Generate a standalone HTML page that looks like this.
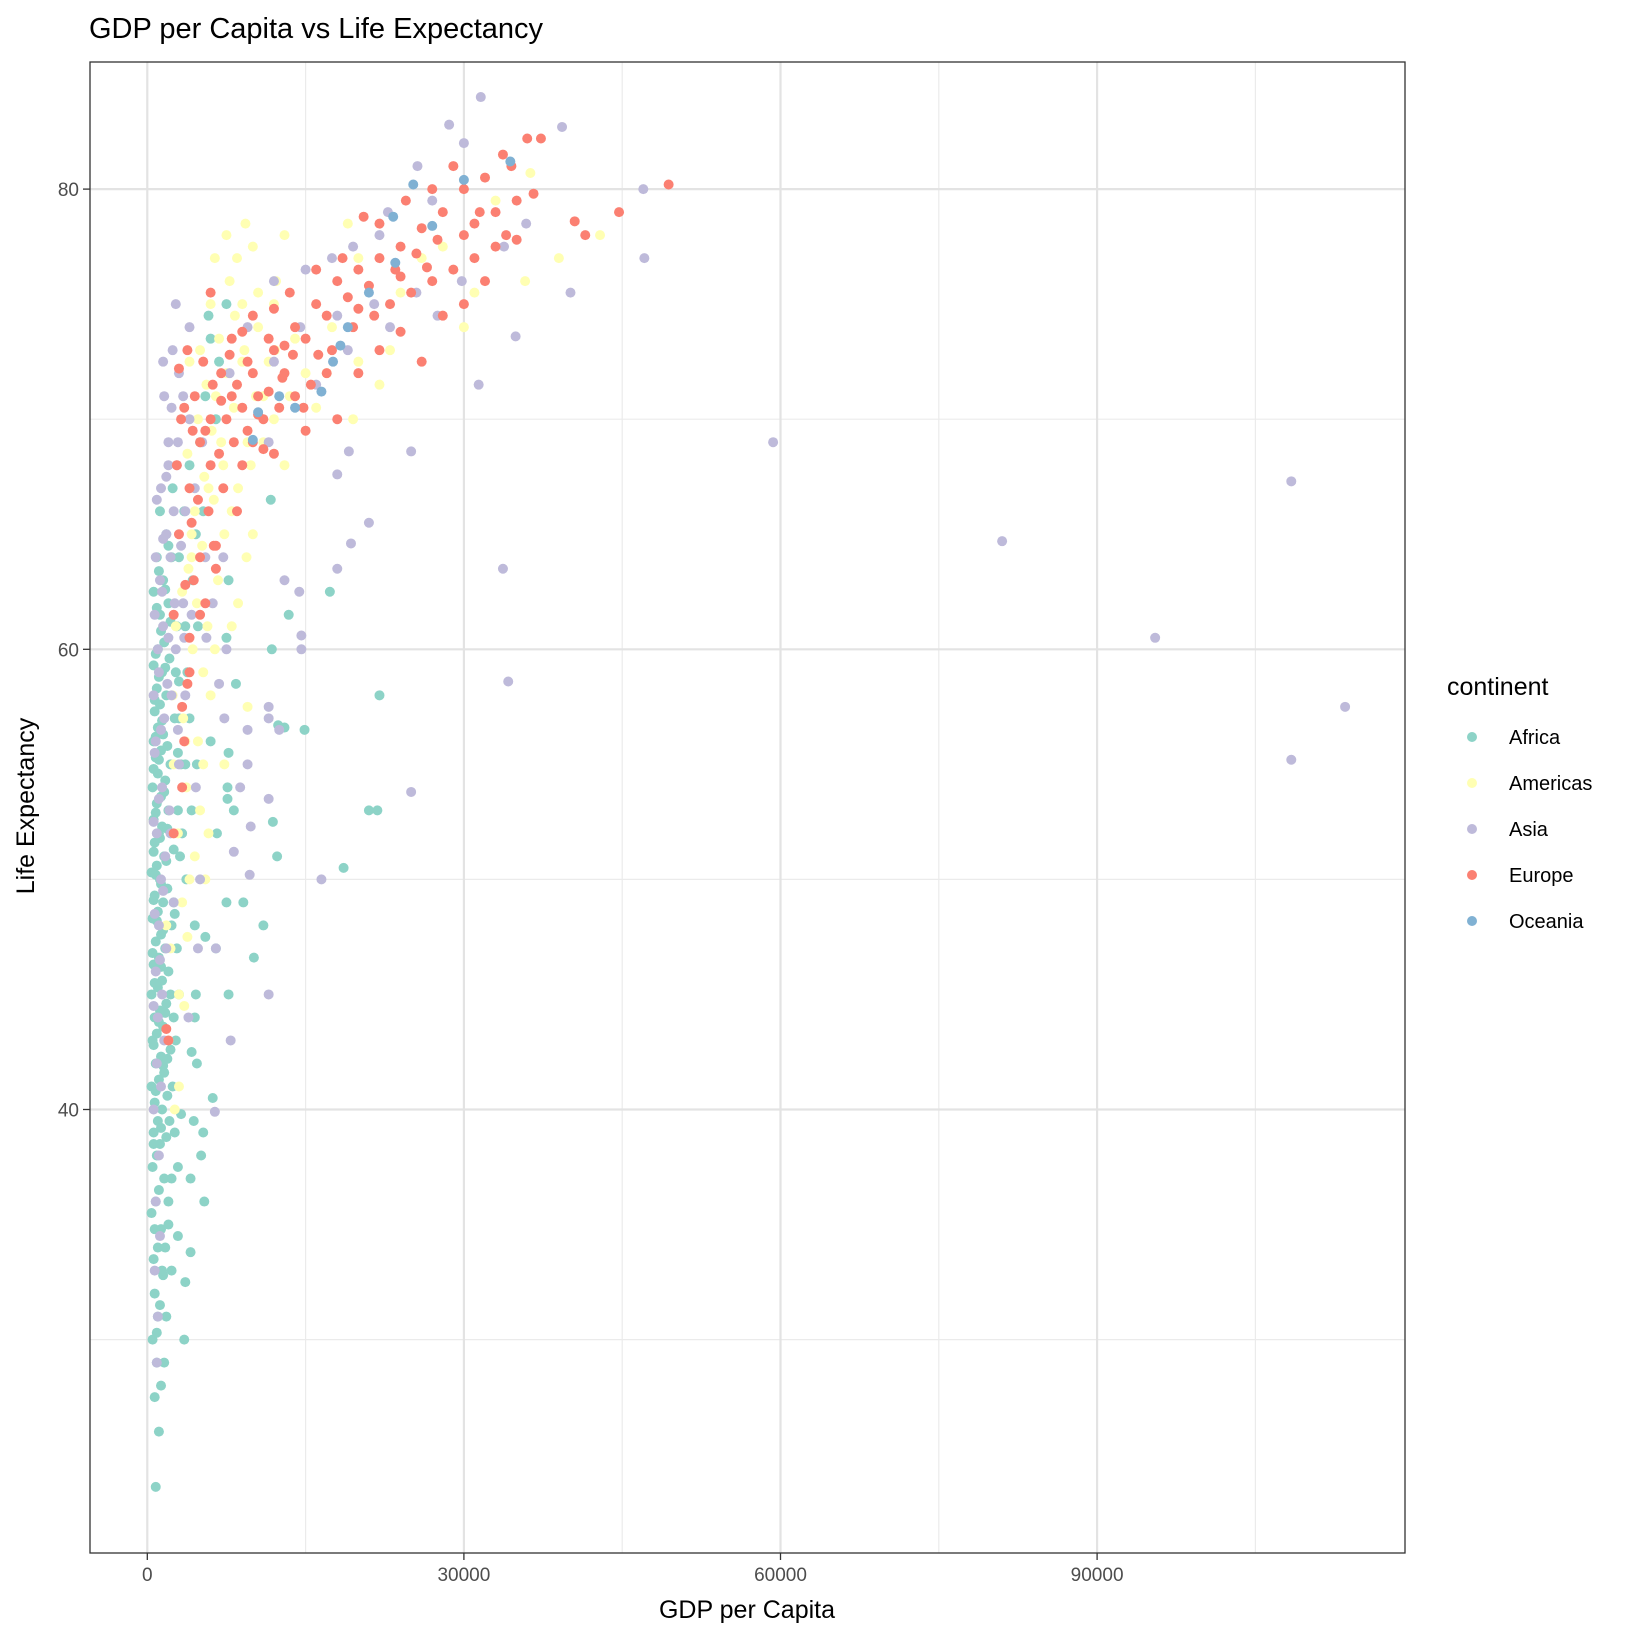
<!DOCTYPE html>
<html><head><meta charset="utf-8"><style>
html,body{margin:0;padding:0;background:#fff;}
svg text{font-family:"Liberation Sans",Arial,sans-serif;}
</style></head><body>
<svg id="chart" width="1632" height="1632" viewBox="0 0 1632 1632" xmlns="http://www.w3.org/2000/svg">
<rect width="1632" height="1632" fill="#fff"/>
<text x="89" y="38" font-size="29" fill="#000">GDP per Capita vs Life Expectancy</text>
<g id="grid"></g>
<g id="points"></g>
<rect x="90" y="62" width="1315" height="1491" fill="none" stroke="#333" stroke-width="1.3"/>
<g id="axes"></g>
<text x="747" y="1618" font-size="25" text-anchor="middle" fill="#000">GDP per Capita</text>
<text transform="translate(34,806) rotate(-90)" font-size="25" text-anchor="middle" fill="#000">Life Expectancy</text>
<g id="legend"></g>
</svg>
<script>
const xTicks=[0,30000,60000,90000];
const xMinor=[15000,45000,75000,105000];
const yTicks=[40,60,80];
const yMinor=[30,50,70];
const continents=["Africa","Americas","Asia","Europe","Oceania"];
const colors=["#8DD3C7","#FFFFB3","#BEBADA","#FB8072","#80B1D3"];
const africa=[[800,23.6],[500,30],[900,30.3],[1200,31.5],[700,32],[1500,32.8],[600,33.5],[1000,34],[1300,34.8],[400,35.5],[800,36],[1100,36.5],[1600,37],[500,37.5],[900,38],[1200,38.5],[1800,38.8],[600,39],[1000,39.5],[1400,40],[700,40.3],[1900,40.6],[400,41],[1100,41.3],[1600,41.6],[800,42],[1300,42.3],[2200,42.6],[500,43],[900,43.3],[1500,43.6],[700,44],[1200,44.3],[1800,44.6],[400,45],[1000,45.3],[1400,45.6],[2000,46],[600,46.3],[1100,46.6],[1700,47],[800,47.3],[1300,47.6],[2300,48],[500,48.3],[1000,48.6],[1500,49],[700,49.3],[1900,49.6],[1200,50],[400,50.3],[900,50.6],[1600,51],[2500,51.3],[700,51.6],[1100,52],[1400,52.3],[600,52.6],[2000,53],[900,53.3],[1300,53.6],[500,54],[1700,54.3],[1000,54.6],[2200,55],[800,55.3],[1300,55.6],[600,56],[1500,56.3],[1000,56.6],[2600,57],[700,57.3],[1200,57.6],[1800,58],[900,58.3],[3000,58.6],[1400,59],[600,59.3],[2100,59.6],[1000,60],[1600,60.3],[2800,61],[1200,61.5],[2000,62],[1500,63],[2300,64],[1800,65],[2400,67],[600,62.5],[900,64],[1100,26],[1300,28],[700,27.5],[1600,29],[1000,31],[1400,33],[2000,35],[2300,37],[2600,39],[2400,41],[2700,43],[3000,45],[2800,47],[2500,49],[3100,51],[2900,53],[3200,55],[3000,57],[3500,30],[3600,32.5],[2900,34.5],[4100,33.8],[4100,37],[5400,36],[2900,37.5],[5100,38],[4400,39.5],[5300,39],[6200,40.5],[3200,39.8],[4200,42.5],[4500,44],[4600,45],[7700,45],[4700,42],[6500,47],[5500,47.5],[9100,49],[7500,49],[18600,50.5],[11000,48],[10100,46.6],[12300,51],[11900,52.5],[8200,53],[7600,54],[7600,53.5],[21000,53],[21800,53],[7700,55.5],[14900,56.5],[12400,56.7],[13000,56.6],[22000,58],[8400,58.5],[11800,60],[7500,60.5],[13400,61.5],[17300,62.5],[7700,63],[11700,66.5],[7500,75],[5800,74.5],[6000,73.5],[6800,72.5],[5500,71],[6500,70],[5000,69],[4000,68],[3500,66],[3000,64],[4300,63],[4600,65],[3600,61],[3800,59],[4000,57],[3600,55],[4200,53],[3700,50],[4500,48],[4800,61],[5300,66],[6600,52],[6000,56],[2000,36],[1700,34],[2300,33],[4700,55],
[600,38.5],[1300,39.2],[800,40.8],[1500,41.9],[600,42.8],[1100,43.8],[1700,44.2],[700,45.5],[1300,46.2],[500,46.8],[1500,47.8],[900,48.2],[600,49.1],[1300,49.8],[800,50.2],[1800,50.8],[600,51.2],[1200,51.8],[1900,52.2],[800,52.9],[1600,53.8],[600,54.8],[1100,55.2],[1900,55.8],[800,56.2],[1400,56.9],[700,57.8],[1100,58.8],[1700,59.2],[800,59.8],[1300,60.8],[2200,61.2],[900,61.8],[1700,62.6],[1100,63.4],[2000,64.5],[1200,66],[2700,59],[2900,55.5],[3300,52],[2600,48.5],[2200,45],[2100,39.5],[1800,31],[900,29],[700,34.8],[1900,42.2],[2500,44]];
const americas=[[2000,43],[3000,45],[3500,44.5],[3800,47.5],[4000,50],[5000,53],[7300,55],[2500,55],[6000,58],[9500,57.5],[3000,41],[2600,40],[2200,47],[3300,49],[4500,51],[5800,52],[2900,52],[3700,54],[4800,56],[3400,57],[5300,59],[4300,60],[5700,61],[8000,61],[4700,62],[6700,63],[3900,63.5],[9400,64],[5200,64.5],[7300,65],[4500,66],[6300,66.5],[8600,67],[5400,67.5],[7200,68],[3800,68.5],[9500,69],[6100,69.5],[4800,70],[8200,70.5],[10300,71],[5600,71.5],[7500,72],[9000,72.5],[12100,73],[6800,73.5],[10500,74],[8300,74.5],[6000,75],[10500,75.5],[7800,76],[12200,76],[6400,77],[7500,78],[9300,78.5],[13000,78],[10000,77.5],[36300,80.7],[42900,78],[39000,77],[35800,76],[31000,75.5],[30000,74],[22000,71.5],[19000,78.5],[26000,77],[24000,75.5],[23000,73],[20000,72.5],[17000,72],[15000,72],[19500,70],[13000,68],[11000,69],[16000,70.5],[14000,73.5],[12000,75],[11000,71],[9800,68],[8000,66],[2400,58],[5500,50],[2700,61],[1800,48],[3300,62.5],[4200,65],
[4000,72.5],[5000,73],[6500,71],[7000,69],[5800,67],[4200,64],[6400,60],[3600,56],[5300,55],[8600,62],[10000,65],[11500,72.5],[9000,75],[8500,77],[13500,71],[12000,70],[17500,74],[20000,77],[28000,77.5],[33000,79.5],[9200,73]];
const asia=[[59300,69],[108400,67.3],[81000,64.7],[95500,60.5],[113500,57.5],[108400,55.2],[47000,80],[47100,77],[40100,75.5],[34900,73.6],[31400,71.5],[25000,68.6],[19100,68.6],[18000,67.6],[21000,65.5],[19300,64.6],[18000,63.5],[33700,63.5],[34200,58.6],[25000,53.8],[13000,63],[14400,62.5],[14600,60.6],[14600,60],[11500,57.5],[11500,57],[12500,56.5],[9500,56.5],[9500,55],[8800,54],[11500,53.5],[9800,52.3],[8200,51.2],[9700,50.2],[16500,50],[11500,45],[7900,43],[6400,39.9],[900,29],[1000,31],[700,33],[1200,34.5],[800,36],[1100,38],[600,40],[1300,41],[900,42],[1600,43],[1000,44],[1400,45],[800,46],[1800,47],[1100,48],[2500,49],[1300,50],[1700,51],[900,52],[2100,53],[1400,54],[3000,55],[800,56],[1600,57],[2300,58],[1100,59],[2700,60],[1500,61],[3400,62],[1200,63],[2200,64],[1800,65],[3600,66],[1300,67],[2800,68],[2000,69],[4000,70],[1600,71],[3000,72],[2400,73],[4000,74],[2700,75],[5500,64],[6200,62],[4500,67],[5200,69],[7800,72],[9500,74],[12000,76],[15000,76.5],[17500,77],[19500,77.5],[22000,78],[22800,79],[25600,81],[27000,79.5],[28600,82.8],[30000,82],[31600,84],[39300,82.7],[35900,78.5],[33800,77.5],[29800,76],[25500,75.5],[21500,75],[18000,74.5],[14500,74],[12000,72.5],[19000,73],[23000,74],[27500,74.5],[16000,71.5],[11500,69],[2900,69],[3600,58],[4600,54],[6500,47],[4800,47],[3900,44],[5000,50],[7300,57],[6800,58.5],[7500,60],[5600,60.5],[7200,64],
[600,44.5],[1200,46.5],[700,48.5],[1500,49.5],[600,52.5],[1100,53.5],[700,55.5],[1300,56.5],[600,58],[1000,60],[2000,60.5],[700,61.5],[1400,62.5],[800,64],[1500,64.8],[2500,66],[900,66.5],[1800,67.5],[2300,70.5],[1500,72.5],[3400,71],[2000,68],[3200,64.5],[2600,62],[1900,58.5],[2900,56.5],[2200,52],[3500,60.5],[4200,61.5]];
const europe=[[49400,80.2],[44700,79],[41500,78],[40500,78.6],[37300,82.2],[36000,82.2],[36600,79.8],[35000,77.8],[34500,81],[33700,81.5],[32000,80.5],[30000,80],[28000,79],[26000,78.3],[24000,77.5],[22000,77],[20000,76.5],[18000,76],[16000,75],[14000,74],[12000,73],[10000,72],[8000,71],[6000,70],[5000,69],[4000,67],[3000,65],[2000,43],[2500,52],[3500,56],[4000,59],[5000,61.5],[5500,62],[1800,43.5],[3300,54],[4400,63],[6300,64.5],[5800,66],[7200,67],[6800,68.5],[8200,69],[9500,69.5],[11000,70],[12500,70.5],[14000,71],[15500,71.5],[17000,72],[10500,71],[13000,72],[9000,70.5],[7500,70],[11500,73.5],[15000,73.5],[17500,73],[19500,74],[21500,74.5],[23000,75],[25000,75.5],[27000,76],[29000,76.5],[31000,77],[33000,77.5],[28000,74.5],[26000,72.5],[30000,75],[32000,76],[34000,78],[30000,78],[27000,80],[29000,81],[31500,79],[35000,79.5],[24500,79.5],[22000,78.5],[20500,78.8],[18500,77],[16000,76.5],[13500,75.5],[12000,74.8],[10000,74.5],[8000,73.5],[7000,72],[6000,75.5],[5300,72.5],[4500,71],[3800,73],[3200,70],[2800,68],[6000,68],[9000,68],[12000,68.5],[15000,69.5],[18000,70],[20000,72],[22000,73],[24000,73.8],[6500,64.5],[8500,66],[2500,61.5],[4000,60.5],[3300,57.5],[3800,58.5],
[7000,70.8],[8500,71.5],[9500,72.5],[10500,70.2],[11500,71.2],[12800,71.8],[13800,72.8],[14800,70.5],[16200,72.8],[6200,71.5],[7800,72.8],[9000,73.8],[10000,69],[11000,68.7],[5500,69.5],[4800,66.5],[3500,70.5],[3000,72.2],[4300,69.5],[19000,75.3],[21000,75.8],[23500,76.5],[25500,77.2],[27500,77.8],[31000,78.5],[33000,79],[26500,76.6],[24000,76.2],[20000,74.8],[17000,74.5],[13000,73.2],[5000,64],[6500,63.5],[4200,65.5],[3600,62.8]];
const oceania=[[10000,69.1],[10500,70.3],[12500,71],[14000,70.5],[16500,71.2],[17600,72.5],[18300,73.2],[19000,74],[21000,75.5],[23500,76.8],[23300,78.8],[25200,80.2],[27000,78.4],[30000,80.4],[34400,81.2]];
const allSeries=[africa,americas,asia,europe,oceania];

const NS="http://www.w3.org/2000/svg";
function xs(v){return 147.3+v*(316.6/30000);}
function ys(v){return 189.1+(80-v)*23.01;}
function mk(tag,attrs,parent){const e=document.createElementNS(NS,tag);for(const k in attrs)e.setAttribute(k,attrs[k]);parent.appendChild(e);return e;}
const grid=document.getElementById('grid');
const axes=document.getElementById('axes');
xMinor.forEach(v=>{const l=mk('line',{x1:xs(v),x2:xs(v),y1:62,y2:1553,stroke:'#ebebeb','stroke-width':1.2},grid);

});
yMinor.forEach(v=>{const l=mk('line',{x1:90,x2:1405,y1:ys(v),y2:ys(v),stroke:'#ebebeb','stroke-width':1.2},grid);

});
xTicks.forEach(v=>{const l=mk('line',{x1:xs(v),x2:xs(v),y1:62,y2:1553,stroke:'#e3e3e3','stroke-width':2.2},grid);


const t=mk('line',{x1:xs(v),x2:xs(v),y1:1553,y2:1560,stroke:'#333','stroke-width':1.3},axes);


const tx=mk('text',{x:xs(v),y:1581,'font-size':19,'text-anchor':'middle',fill:'#4d4d4d'},axes);tx.textContent=v;

});
yTicks.forEach(v=>{const l=mk('line',{x1:90,x2:1405,y1:ys(v),y2:ys(v),stroke:'#e3e3e3','stroke-width':2.2},grid);


const t=mk('line',{x1:83,x2:90,y1:ys(v),y2:ys(v),stroke:'#333','stroke-width':1.3},axes);


const tx=mk('text',{x:79,y:ys(v)+7,'font-size':19,'text-anchor':'end',fill:'#4d4d4d'},axes);tx.textContent=v;

});
const pts=document.getElementById('points');
allSeries.forEach((s,i)=>{s.forEach(p=>{const c=mk('circle',{cx:xs(p[0]),cy:ys(p[1]),r:5,fill:colors[i]},pts);

});});
const lg=document.getElementById('legend');
const lt=mk('text',{x:1447,y:695,'font-size':25,fill:'#000'},lg);lt.textContent='continent';


continents.forEach((n,i)=>{const y=737+i*46;
const c=mk('circle',{cx:1472,cy:y,r:5,fill:colors[i]},lg);


const t=mk('text',{x:1509,y:y+7,'font-size':20,fill:'#000'},lg);t.textContent=n;

});
</script>
</body></html>
